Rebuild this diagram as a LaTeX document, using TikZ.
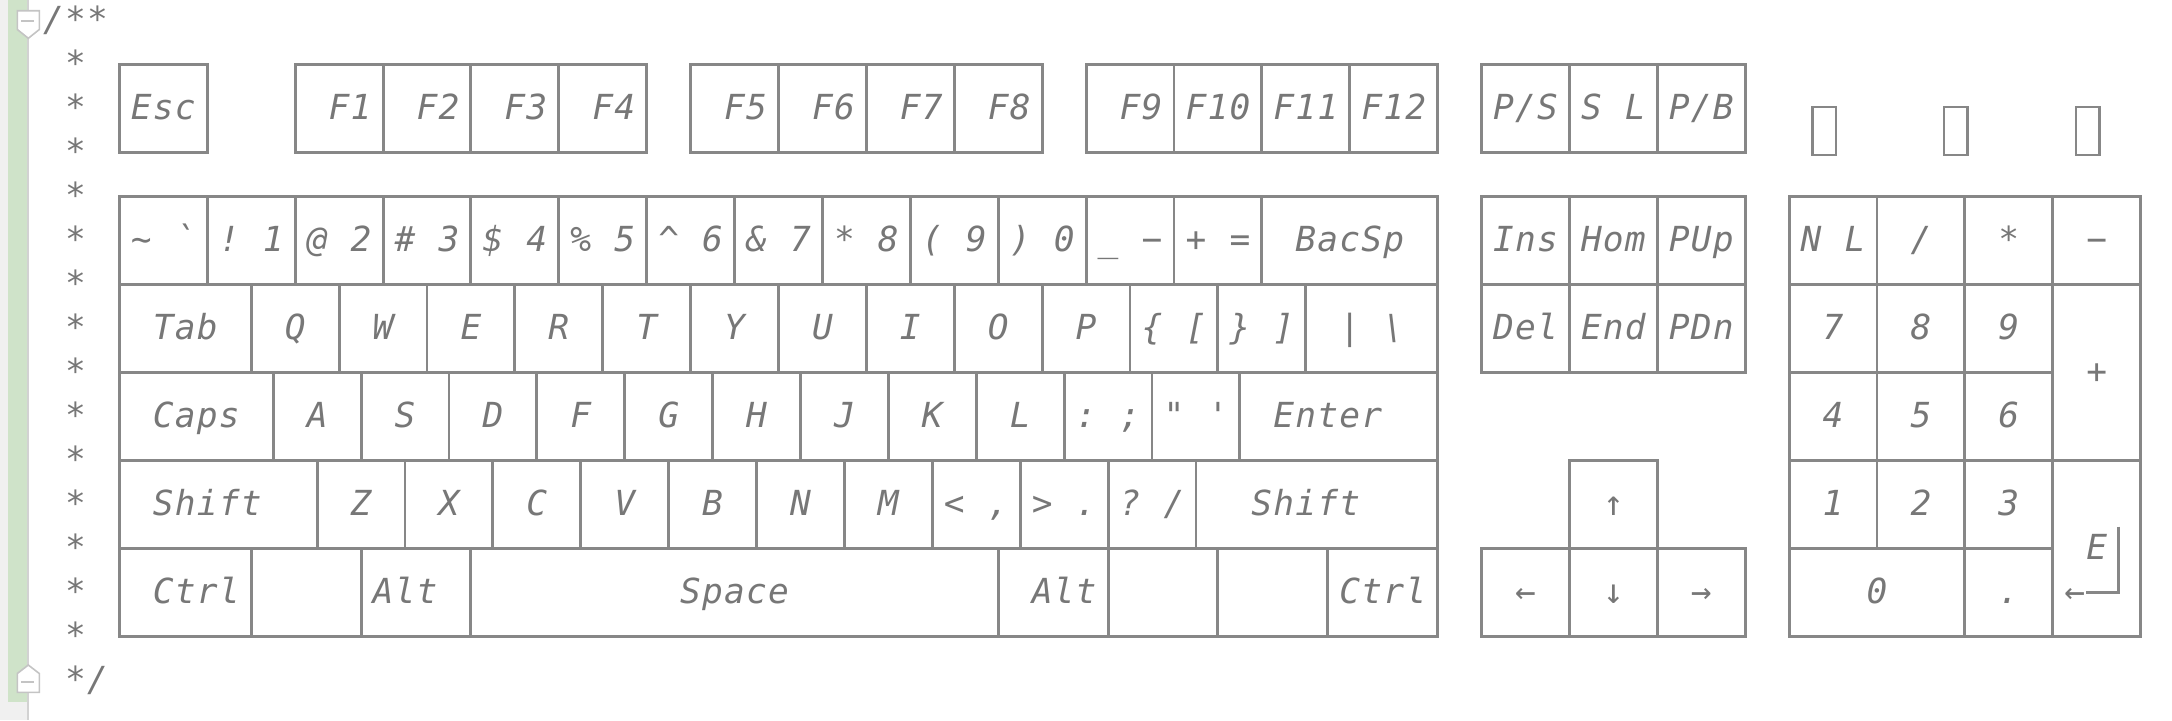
\documentclass[tikz,border=0pt]{standalone}
\usepackage{fontspec}
\setmonofont{DejaVu Sans Mono}[LetterSpace=3.5]
\usepackage{tikz}

\definecolor{keygray}{HTML}{878787}
\definecolor{txtgray}{HTML}{777777}
\definecolor{gutgreen}{HTML}{CFE3C9}
\definecolor{gutgray}{HTML}{F0F0F0}
\definecolor{gutline}{HTML}{D2D2D2}
\definecolor{foldgray}{HTML}{C4C4C4}
\newcommand\keyfont{\fontsize{17.25}{20}\selectfont\ttfamily\itshape}
\tikzset{
  keyline/.style={draw=keygray, line width=1.45pt},
  keylabel/.style={text=txtgray, font=\keyfont, anchor=base, inner sep=0pt},
  foldmark/.style={draw=foldgray, fill=white, line width=0.8pt},
}

\begin{document}
\begin{tikzpicture}[x=0.5pt, y=-0.5pt]
% Page and gutter, in pixels
\useasboundingbox (0,0) rectangle (2172,720);
\fill[white] (0,0) rectangle (2172,720);
\fill[gutgray] (0,0) rectangle (27,720);
\fill[gutgreen] (8,0) rectangle (27,702);
\fill[gutline] (27,0) rectangle (29,720);
% Fold markers
\draw[foldmark] (17.3,10.7) -- (39.3,10.7) -- (39.3,29.5) -- (28.3,38.3) -- (17.3,29.5) -- cycle;
\draw[foldgray, line width=0.8pt] (21,21) -- (33.6,21);
\draw[foldmark] (17.3,692.3) -- (39.3,692.3) -- (39.3,673.5) -- (28.3,665) -- (17.3,673.5) -- cycle;
\draw[foldgray, line width=0.8pt] (21,681.7) -- (33.6,681.7);

% Character grid: one unit = one column / one line
\begin{scope}[shift={(53.5,20.7)}, x=10.985pt, y=-22pt]
% Comment
\node[keylabel] (open) at (1,0.25) {/**};
\foreach \r in {1,...,14}
  \node[keylabel] (star\r) at (1,\r+0.25) {*};
\node[keylabel] (close) at (1.5,15.25) {*/};

% Function row
\draw[keyline] (3,1) rectangle (7,3);
\draw[keyline] (11,1) rectangle (27,3);
\draw[keyline] (29,1) rectangle (45,3);
\draw[keyline] (47,1) rectangle (63,3);
\draw[keyline] (65,1) rectangle (77,3);
\foreach \c in {15,19,23,33,37,41,51,55,59,69,73}
  \draw[keyline] (\c,1) -- (\c,3);
\foreach \c/\t [count=\i] in {5/Esc, 13.5/F1, 17.5/F2, 21.5/F3, 25.5/F4,
    31.5/F5, 35.5/F6, 39.5/F7, 43.5/F8, 49.5/F9, 53/F10, 57/F11, 61/F12,
    67/{P/S}, 70/S, 72/L, 75/{P/B}}
  \node[keylabel] (fkey\i) at (\c,2.25) {\t};
% Lights
\foreach \c [count=\i] in {80.05,86.05,92.05}
  \draw[keyline, line width=1.3pt] (\c,1.96) rectangle (\c+1.08,3.05);

% Main block
\draw[keyline] (3,4) rectangle (63,14);
\foreach \r in {6,8,10,12}
  \draw[keyline] (3,\r) -- (63,\r);
\foreach \c in {7,11,...,55}
  \draw[keyline] (\c,4) -- (\c,6);
\foreach \c in {9,13,...,57}
  \draw[keyline] (\c,6) -- (\c,8);
\foreach \c in {10,14,...,54}
  \draw[keyline] (\c,8) -- (\c,10);
\foreach \c in {12,16,...,52}
  \draw[keyline] (\c,10) -- (\c,12);
\foreach \c in {9,14,19,43,48,53,58}
  \draw[keyline] (\c,12) -- (\c,14);

\foreach \c/\t [count=\i] in {4/\textasciitilde, 6/`, 8/!, 10/1, 12/@, 14/2,
    16/\#, 18/3, 20/\$, 22/4, 24/\%, 26/5, 28/\textasciicircum, 30/6, 32/\&,
    34/7, 36/*, 38/8, 40/(, 42/9, 44/), 46/0, 48/\_, 50/−, 52/+, 54/=, 59/BacSp}
  \node[keylabel] (num\i) at (\c,5.25) {\t};
\foreach \c/\t [count=\i] in {6/Tab, 11/Q, 15/W, 19/E, 23/R, 27/T, 31/Y, 35/U,
    39/I, 43/O, 47/P, 50/\{, 52/{[}, 54/\}, 56/{]}, 59/\textbar, 61/\textbackslash}
  \node[keylabel] (tab\i) at (\c,7.25) {\t};
\foreach \c/\t [count=\i] in {6.5/Caps, 12/A, 16/S, 20/D, 24/F, 28/G, 32/H,
    36/J, 40/K, 44/L, 47/:, 49/;, 51/", 53/', 58/Enter}
  \node[keylabel] (caps\i) at (\c,9.25) {\t};
\foreach \c/\t [count=\i] in {7/Shift, 14/Z, 18/X, 22/C, 26/V, 30/B, 34/N,
    38/M, 41/<, 43/{,}, 45/>, 47/., 49/?, 51/{/}, 57/Shift}
  \node[keylabel] (shift\i) at (\c,11.25) {\t};
\foreach \c/\t [count=\i] in {6.5/Ctrl, 16/Alt, 31/Space, 46/Alt, 60.5/Ctrl}
  \node[keylabel] (ctrl\i) at (\c,13.25) {\t};

% Editing keys
\draw[keyline] (65,4) rectangle (77,8);
\draw[keyline] (65,6) -- (77,6);
\foreach \c in {69,73}
  \draw[keyline] (\c,4) -- (\c,8);
\foreach \c/\t [count=\i] in {67/Ins, 71/Hom, 75/PUp}
  \node[keylabel] (edit\i) at (\c,5.25) {\t};
\foreach \c/\t [count=\i] in {67/Del, 71/End, 75/PDn}
  \node[keylabel] (edit\i) at (\c,7.25) {\t};

% Arrows
\draw[keyline] (69,10) rectangle (73,12);
\draw[keyline] (65,12) rectangle (77,14);
\foreach \c in {69,73}
  \draw[keyline] (\c,12) -- (\c,14);
\node[keylabel, font=\keyfont\upshape] (up) at (71,11.25) {↑};
\foreach \c/\t [count=\i] in {67/←, 71/↓, 75/→}
  \node[keylabel, font=\keyfont\upshape] (arrow\i) at (\c,13.25) {\t};

% Numeric pad
\draw[keyline] (79,4) rectangle (95,14);
\draw[keyline] (79,6) -- (95,6);
\draw[keyline] (79,8) -- (91,8);
\draw[keyline] (79,10) -- (95,10);
\draw[keyline] (79,12) -- (91,12);
\draw[keyline] (83,4) -- (83,12);
\foreach \c in {87,91}
  \draw[keyline] (\c,4) -- (\c,14);
\foreach \c/\t [count=\i] in {80/N, 82/L, 85/{/}, 89/*, 93/−}
  \node[keylabel] (pad\i) at (\c,5.25) {\t};
\foreach \r/\a/\b/\d in {7.25/7/8/9, 9.25/4/5/6, 11.25/1/2/3} {
  \node[keylabel] (pad\a) at (81,\r) {\a};
  \node[keylabel] (pad\b) at (85,\r) {\b};
  \node[keylabel] (pad\d) at (89,\r) {\d};
}
\node[keylabel] (padplus) at (93,8.25) {+};
\node[keylabel] (pad0) at (83,13.25) {0};
\node[keylabel] (paddot) at (89,13.25) {.};
\node[keylabel] (padE) at (93,12.25) {E};
\node[keylabel, font=\keyfont\upshape] (padret) at (92,13.25) {←};
\draw[keyline] (94,11.5) -- (94,13) -- (92.5,13);
\end{scope}
\end{tikzpicture}
\end{document}
